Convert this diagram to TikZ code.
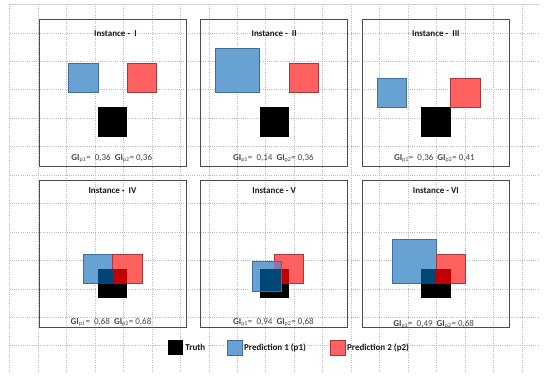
\documentclass[tikz,border=0pt]{standalone}
\usepackage{fontspec}
\setmainfont{Carlito}
\definecolor{pblue}{RGB}{104,162,210}
\definecolor{pblueb}{RGB}{62,110,155}
\definecolor{pred}{RGB}{255,96,96}
\definecolor{predb}{RGB}{170,55,55}
\definecolor{dblue}{RGB}{0,70,118}
\definecolor{dred}{RGB}{195,0,0}
\definecolor{ppurple}{RGB}{140,118,172}
\definecolor{gridc}{RGB}{185,185,185}
\definecolor{txtc}{RGB}{70,70,70}
\newcommand\GIv[2]{\textbf{GI}\textsubscript{p#1}=\ #2}
\tikzset{
  gridl/.style={gridc, line width=0.5pt, dash pattern=on 0.7pt off 1.5pt},
  topl/.style={gray!35, line width=0.8pt},
  framebox/.style={draw=black!70, line width=0.7pt},
  bsq/.style={fill=pblue, draw=pblueb, line width=0.5pt},
  rsq/.style={fill=pred, draw=predb, line width=0.5pt},
  tsq/.style={fill=black},
  ttl/.style={font=\bfseries\fontsize{9}{10.8}\selectfont, text=black!90, inner sep=0pt},
  gil/.style={font=\fontsize{9}{10.8}\selectfont, text=txtc, inner sep=0pt},
  leg/.style={font=\bfseries\fontsize{9}{10.8}\selectfont, text=black!90, inner sep=0pt, anchor=west}
}
\begin{document}
\begin{tikzpicture}[x=1pt,y=-1pt]
\useasboundingbox (0,0) rectangle (550,380);
\fill[white] (0,0) rectangle (550,380);
\begin{scope}[shift={(9.6,4.3)}, x=14.7pt, y=-14.7pt]
  % grid
  \draw[gridl] (0,0) grid (36,25);
  \draw[topl] (0,0) -- (36,0);
  % frames
  \draw[framebox] (2,1) rectangle (12,11);
  \draw[framebox] (13,1) rectangle (23,11);
  \draw[framebox] (24,1) rectangle (34,11);
  \draw[framebox] (2,12) rectangle (12,22);
  \draw[framebox] (13,12) rectangle (23,22);
  \draw[framebox] (24,12) rectangle (34,22);
  % Instance I
  \fill[tsq] (6,7) rectangle (8,9);
  \draw[bsq] (4,4) rectangle (6,6);
  \draw[rsq] (8,4) rectangle (10,6);
  % Instance II
  \fill[tsq] (17,7) rectangle (19,9);
  \draw[bsq] (14,3) rectangle (17,6);
  \draw[rsq] (19,4) rectangle (21,6);
  % Instance III
  \fill[tsq] (28,7) rectangle (30,9);
  \draw[bsq] (25,5) rectangle (27,7);
  \draw[rsq] (30,5) rectangle (32,7);
  % Instance IV
  \fill[tsq] (6,18) rectangle (8,20);
  \draw[bsq] (5,17) rectangle (7,19);
  \draw[rsq] (7,17) rectangle (9,19);
  \fill[dblue] (6,18) rectangle (7,19);
  \fill[dred] (7,18) rectangle (8,19);
  % Instance V
  \fill[tsq] (17,18) rectangle (19,20);
  \draw[rsq] (18,17) rectangle (20,19);
  \fill[dred] (18,18) rectangle (19,19);
  \begin{scope}
    \clip (16.5,17.5) rectangle (18.5,19.5);
    \fill[pblue] (16.5,17.5) rectangle (18.5,19.5);
    \fill[ppurple] (18,17) rectangle (20,19);
    \fill[dblue] (17,18) rectangle (19,20);
  \end{scope}
  \draw[pblueb, line width=0.6pt] (16.5,17.5) rectangle (18.5,19.5);
  % Instance VI
  \fill[tsq] (28,18) rectangle (30,20);
  \draw[bsq] (26,16) rectangle (29,19);
  \draw[rsq] (29,17) rectangle (31,19);
  \fill[dblue] (28,18) rectangle (29,19);
  \fill[dred] (29,18) rectangle (30,19);
  % titles
  \node[ttl] (t1) at (7.2,1.97) {Instance -\ \ I};
  \node[ttl] (t2) at (18,1.97) {Instance -\ \ II};
  \node[ttl] (t3) at (29,1.97) {Instance -\ \ III};
  \node[ttl] (t4) at (7,12.65) {Instance -\ \ IV};
  \node[ttl] (t5) at (18,12.65) {Instance - V};
  \node[ttl] (t6) at (29,12.65) {Instance - VI};
  % GI labels
  \node[gil] (g1) at (6.95,10.5) {\GIv{1}{\ 0,36}\ \ \GIv{2}{0,36}};
  \node[gil] (g2) at (17.95,10.5) {\GIv{1}{\ 0,14}\ \ \GIv{2}{0,36}};
  \node[gil] (g3) at (28.9,10.5) {\GIv{1}{\ 0,36}\ \ \GIv{2}{0,41}};
  \node[gil] (g4) at (6.9,21.63) {\GIv{1}{\ 0,68}\ \ \GIv{2}{0,68}};
  \node[gil] (g5) at (17.95,21.63) {\GIv{1}{\ 0,94}\ \ \GIv{2}{0,68}};
  \node[gil] (g6) at (28.85,21.77) {\GIv{1}{\ 0,49}\ \ \GIv{2}{0,68}};
  % legend
  \fill[tsq] (10.8,22.86) rectangle (11.8,23.86);
  \draw[bsq] (14.79,22.86) rectangle (15.81,23.86);
  \draw[rsq] (21.8,22.86) rectangle (22.84,23.86);
  \node[leg] (l1) at (11.94,23.36) {Truth};
  \node[leg] (l2) at (15.94,23.36) {Prediction 1 (p1)};
  \node[leg] (l3) at (22.95,23.36) {Prediction 2 (p2)};
\end{scope}
\end{tikzpicture}
\end{document}
